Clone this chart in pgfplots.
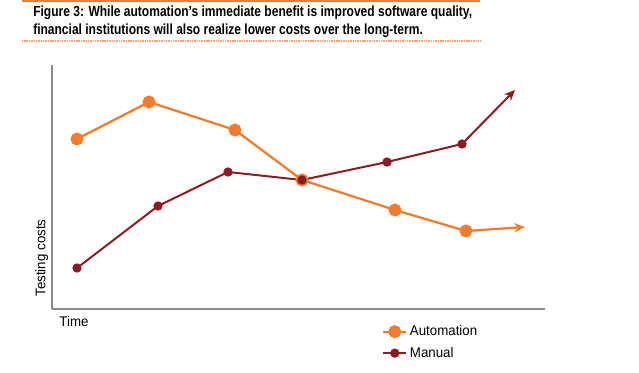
\documentclass[border=0pt]{standalone}
\usepackage{pgfplots}
\pgfplotsset{compat=1.18}
\usetikzlibrary{arrows.meta}
\usepackage{fontspec}
\setmainfont{Liberation Sans}
\newfontfamily\titlefont[FakeStretch=0.82]{Liberation Sans}
\newfontfamily\labfont[FakeStretch=0.95]{Liberation Sans}
\definecolor{autoc}{HTML}{F47B2B}
\definecolor{manc}{HTML}{8C1B22}
\definecolor{axg}{HTML}{8A8A8A}
\begin{document}
\begin{tikzpicture}[x=0.75pt,y=0.75pt]
\useasboundingbox (0,0) rectangle (639,372);
\draw[autoc, line width=1.5pt] (22,371.2) -- (480,371.2);
\draw[autoc!70, line width=1.2pt, dash pattern=on 0.8pt off 0.5pt] (22,331) -- (480,331);
\node[anchor=north west, inner sep=0pt, align=left, font=\titlefont\bfseries\fontsize{11}{13.3}\selectfont] at (33,366)
  {Figure 3: While automation’s immediate benefit is improved software quality,\\financial institutions will also realize lower costs over the long-term.};
\begin{axis}[
  scale only axis, width=369.75pt, height=183pt,
  anchor=south west, at={(52,63)},
  xmin=52, xmax=545, ymin=63, ymax=307,
  axis x line*=bottom, axis y line*=left,
  axis line style={axg, line width=0.9pt, -},
  ticks=none, clip=false,
  legend style={draw=none, fill=none, at={(axis cs:378,52)}, anchor=north west,
    font=\labfont\fontsize{10.5}{12}\selectfont, row sep=3pt},
  legend cell align=left,
]
\addplot[autoc, line width=1.7pt, mark=*, mark size=4pt, mark options={solid, fill=autoc, draw=autoc}]
  coordinates {(77,233) (149,270) (235,242) (302,192) (395,162) (466,141)};
\addlegendentry{Automation}
\addplot[manc, line width=1.5pt, mark=*, mark size=2.7pt, mark options={solid, fill=manc, draw=manc}]
  coordinates {(77,104) (158,166) (228,200) (302,192) (387,210) (462,228)};
\addlegendentry{Manual}
\addplot[autoc, line width=1.7pt, -{Stealth[length=8pt, width=7pt]}, forget plot]
  coordinates {(466,141) (525,145)};
\addplot[manc, line width=1.5pt, -{Stealth[length=8pt, width=7pt]}, forget plot]
  coordinates {(462,228) (515,282)};
\node[anchor=north, font=\labfont\fontsize{10.5}{12}\selectfont] at (axis cs:74,60) {Time};
\node[anchor=south, inner sep=1pt, rotate=90, font=\labfont\fontsize{10.5}{12}\selectfont] at (axis cs:50,114) {Testing costs};
\end{axis}
\end{tikzpicture}
\end{document}
